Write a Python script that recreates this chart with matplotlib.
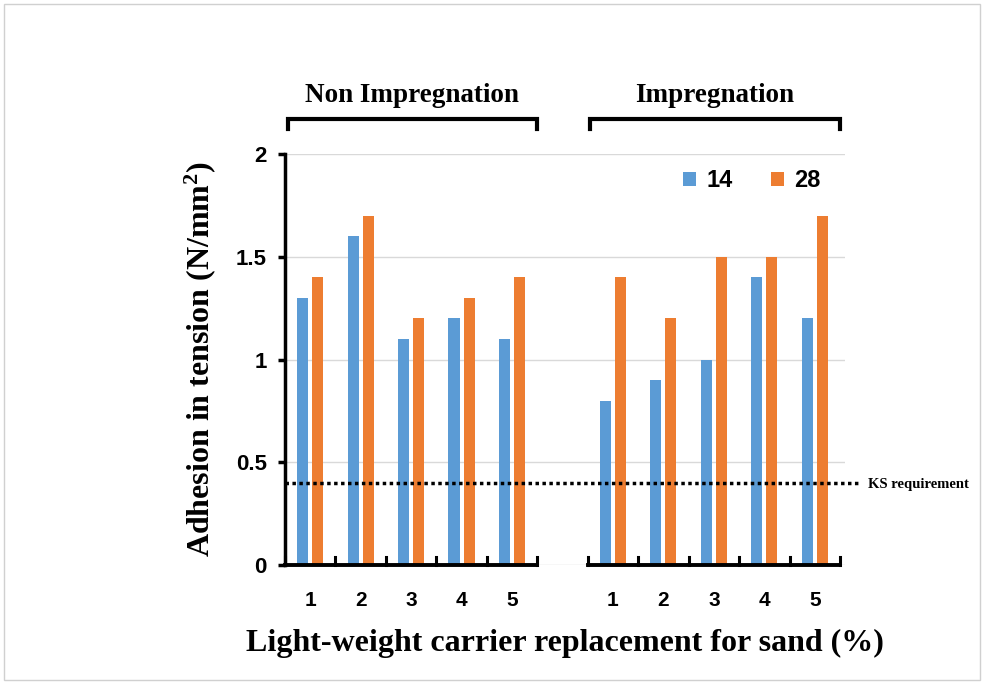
import matplotlib
matplotlib.use("Agg")
import matplotlib.pyplot as plt
import numpy as np
from matplotlib.patches import Rectangle

plt.rcParams["mathtext.fontset"] = "custom"
plt.rcParams["mathtext.rm"] = "Liberation Serif:bold"
plt.rcParams["mathtext.bf"] = "Liberation Serif:bold"
plt.rcParams["mathtext.it"] = "Liberation Serif:bold"

categories = ["1", "2", "3", "4", "5"]
groups = ["Non Impregnation", "Impregnation"]
non_14 = [1.3, 1.6, 1.1, 1.2, 1.1]
non_28 = [1.4, 1.7, 1.2, 1.3, 1.4]
imp_14 = [0.8, 0.9, 1.0, 1.4, 1.2]
imp_28 = [1.4, 1.2, 1.5, 1.5, 1.7]
ks_requirement = 0.4
yticks = [0, 0.5, 1, 1.5, 2]
ytick_labels = ["0", "0.5", "1", "1.5", "2"]

blue = "#5B9BD5"
orange = "#ED7D31"
serif = "Liberation Serif"
sans = "Liberation Sans"

fig = plt.figure(figsize=(9.86, 6.84), dpi=100)
ax = fig.add_axes([285 / 986, 1 - 565 / 684, 560 / 986, 411 / 684])

n = len(categories)
pos_left = np.arange(n)
pos_right = np.arange(n) + n + 1
w = 0.22
off = 0.15

ax.bar(pos_left - off, non_14, w, color=blue, label="14", zorder=3)
ax.bar(pos_left + off, non_28, w, color=orange, label="28", zorder=3)
ax.bar(pos_right - off, imp_14, w, color=blue, zorder=3)
ax.bar(pos_right + off, imp_28, w, color=orange, zorder=3)

ax.set_xlim(-0.5, 10.6)
ax.set_ylim(0, 2)
ax.set_yticks(yticks)
ax.set_yticklabels(ytick_labels, fontfamily=sans, fontweight="bold", fontsize=16)
ax.yaxis.grid(True, color="#D9D9D9", linewidth=1, zorder=0)
ax.set_axisbelow(True)

for s in ["top", "right", "bottom"]:
    ax.spines[s].set_visible(False)
ax.spines["left"].set_linewidth(2.5)
ax.tick_params(axis="y", direction="out", length=5, width=2.5, pad=8)

ax.set_xticks(list(pos_left) + list(pos_right))
ax.set_xticklabels(categories + categories, fontfamily=sans, fontweight="bold", fontsize=15)
ax.tick_params(axis="x", length=0, pad=19)

for start in [-0.5, n + 0.5]:
    ax.plot([start, start + n], [0, 0], color="black", lw=2.8, clip_on=False, zorder=5,
            solid_capstyle="projecting")
    for b in np.arange(start, start + n + 0.01, 1.0):
        ax.plot([b, b], [0, 0.04], color="black", lw=2.2, clip_on=False, zorder=5)

ax.plot([-0.5, 10.9], [ks_requirement, ks_requirement], color="black", lw=2.5,
        linestyle=(0, (1, 1)), clip_on=False, zorder=4)
ax.text(11.05, ks_requirement - 0.01, "KS requirement", fontfamily=serif, fontweight="bold",
        fontsize=10.5, va="center", ha="left")

for i, g in enumerate(groups):
    start = -0.5 + i * (n + 1)
    x0, x1 = start + 0.05, start + n
    yb = 2.17
    ax.plot([x0, x0, x1, x1], [yb - 0.05, yb, yb, yb - 0.05], color="black", lw=3,
            clip_on=False, solid_joinstyle="miter")
    ax.text((x0 + x1) / 2, 2.285, g, fontfamily=serif, fontweight="bold", fontsize=19.5,
            ha="center", va="center")

ax.set_ylabel("Adhesion in tension (N/mm$^{2}$)", fontfamily=serif, fontweight="bold",
              fontsize=23, labelpad=13)
ax.set_xlabel("Light-weight carrier replacement for sand (%)", fontfamily=serif,
              fontweight="bold", fontsize=23, labelpad=13)

leg = ax.legend(loc="upper right", bbox_to_anchor=(0.995, 1.015), ncol=2, frameon=False,
                prop={"family": sans, "weight": "bold", "size": 17},
                handlelength=0.55, handleheight=0.55, columnspacing=1.6, handletextpad=0.45)

fig.patches.append(Rectangle((4 / 986, 4 / 684), 976 / 986, 676 / 684, transform=fig.transFigure,
                             fill=False, edgecolor="#D0D0D0", lw=1))

fig.savefig("out.png", dpi=100)
